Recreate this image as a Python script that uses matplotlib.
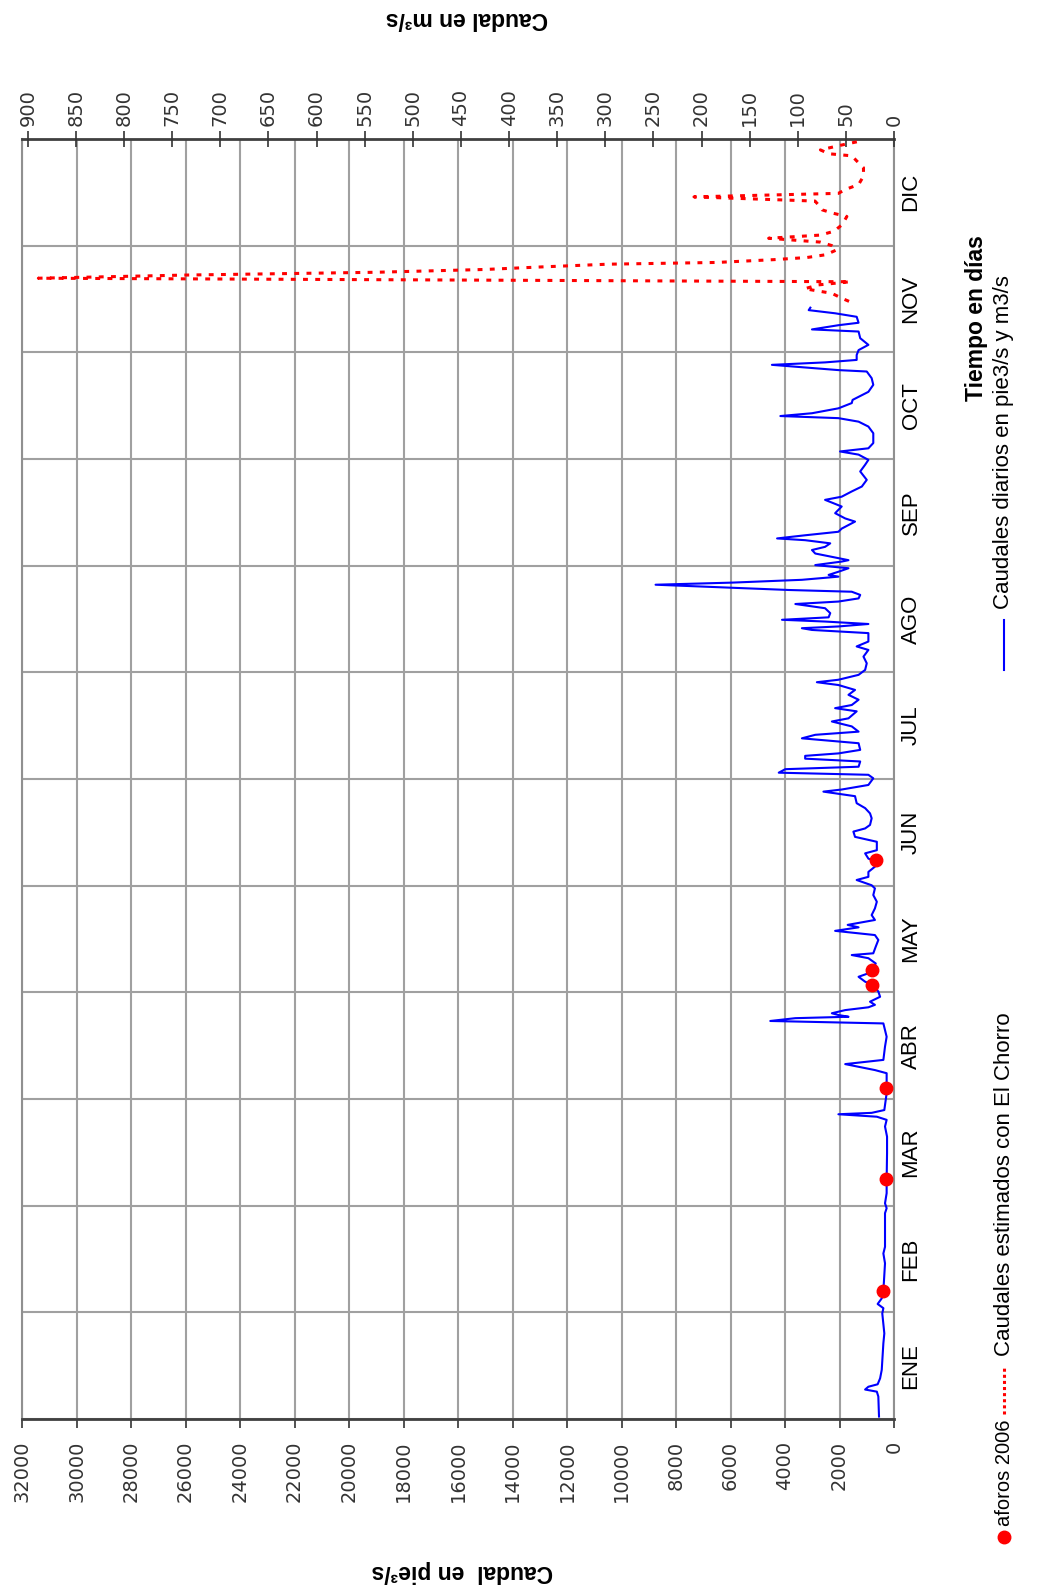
import numpy as np
import matplotlib
matplotlib.use("Agg")
import matplotlib.pyplot as plt
from matplotlib.lines import Line2D
from matplotlib.transforms import blended_transform_factory

plt.rcParams['font.family'] = ['Liberation Sans', 'DejaVu Sans']

# caudales diarios observados (día del año, pie3/s)
blue_day = [0.7, 6.4, 7.8, 8.4, 9.2, 9.9, 11.6, 14.0, 21.6, 24.4, 30.1, 31.6, 32.8, 34.4, 36.5,
            39.6, 44.4, 47.2, 49.1, 58.7, 60.1, 61.5, 64.4, 68.2, 75.8, 80.5, 83.4, 85.3, 86.2,
            86.9, 87.3, 88.1, 92.9, 98.6, 99.5, 101.2, 102.4, 106.2, 109.0, 110.9, 112.8, 113.5,
            114.3, 114.7, 115.2, 115.7, 116.6, 117.4, 118.1, 119.0, 120.4, 121.9, 123.8, 124.7,
            126.1, 127.1, 127.9, 129.9, 131.4, 132.3, 132.8, 134.7, 136.6, 138.0, 139.2, 140.2,
            140.9, 142.3, 143.7, 145.6, 147.5, 149.4, 151.3, 152.2, 153.7, 154.6, 156.0, 157.5,
            158.9, 159.8, 161.3, 162.2, 164.6, 166.0, 167.5, 168.4, 169.4, 171.3, 172.7, 174.2,
            175.6, 177.6, 178.9, 179.5, 180.8, 182.7, 183.7, 184.3, 185.3, 186.0, 187.5, 188.3,
            189.1, 189.8, 190.8, 192.7, 193.2, 194.1, 195.1, 196.0, 197.5, 198.9, 199.8, 201.8,
            202.7, 203.6, 205.1, 206.5, 207.9, 209.3, 210.1, 210.8, 212.2, 213.6, 215.5, 217.4,
            219.3, 220.3, 221.7, 224.1, 225.0, 225.5, 226.0, 226.7, 227.4, 227.9, 228.6, 229.8,
            231.2, 232.4, 233.1, 234.0, 235.0, 235.9, 236.4, 237.9, 238.5, 239.3, 240.2, 240.7,
            241.6, 242.6, 243.5, 244.5, 244.9, 246.8, 247.8, 248.7, 249.7, 250.6, 251.1, 252.0,
            253.0, 253.9, 255.9, 256.8, 258.3, 260.2, 262.1, 263.0, 264.5, 265.9, 267.8, 270.2,
            272.1, 273.5, 275.0, 275.9, 276.8, 278.3, 281.1, 283.0, 284.4, 285.4, 286.0, 286.8,
            288.2, 289.7, 290.6, 292.9, 294.9, 296.8, 298.7, 299.1, 300.6, 301.3, 302.0, 303.4,
            304.8, 306.3, 308.2, 310.1, 310.7, 311.9, 312.6, 314.3, 315.3, 316.2, 316.9]
blue_flow = [550, 575, 630, 1060, 940, 600, 510, 450, 390, 355, 430, 390, 600, 450, 390,
             365, 330, 390, 330, 330, 270, 330, 270, 270, 255, 255, 330, 270, 630,
             2040, 820, 355, 270, 270, 700, 1790, 390, 330, 270, 330, 390, 4540,
             3620, 1670, 2040, 2280, 1790, 940, 700, 880, 510, 575, 790, 1060,
             1300, 940, 820, 670, 940, 1550, 760, 670, 575, 700, 2160, 1300,
             1700, 700, 820, 700, 630, 760, 700, 820, 1370, 940, 940, 700,
             670, 940, 1060, 630, 630, 1430, 1490, 1060, 880, 820, 880, 1060,
             1370, 1430, 2590, 1920, 940, 760, 940, 4230, 3990, 1300, 1240, 3260,
             3260, 2040, 1240, 1300, 2040, 3380, 2890, 1300, 1550, 2280, 1670, 1370,
             2160, 1550, 1300, 1670, 1430, 2040, 2830, 2040, 1300, 1060, 1000, 1120,
             940, 1370, 940, 940, 3010, 3380, 2040, 940, 2530, 4110, 2400, 2340,
             2530, 3620, 2040, 1300, 1240, 1550, 3870, 8750, 5940, 3380, 2040, 2400,
             2040, 1670, 2890, 1920, 1670, 2890, 3010, 2530, 2340, 3260, 4290, 3260,
             2040, 1920, 1430, 1790, 2160, 1920, 2530, 1920, 1550, 1180, 1000, 1240,
             1060, 940, 1300, 1980, 940, 760, 760, 940, 1300, 2040, 4170, 3010,
             2040, 1550, 1520, 940, 760, 820, 1000, 2040, 4480, 2530, 1370, 1370,
             1300, 940, 1240, 1300, 3010, 2040, 1300, 1370, 2160, 3130, 3070]

# caudales estimados con El Chorro
est_day = [318.7, 319.6, 321.0, 322.3, 323.4, 324.3, 325.3, 326.2, 327.0, 327.8, 328.5, 329.3,
           329.8, 330.6, 331.2, 332.0, 333.4, 334.6, 335.6, 336.7, 337.6, 338.7, 340.6, 342.9,
           343.9, 344.8, 346.2, 347.3, 348.5, 349.5, 350.6, 352.0, 354.4, 356.8, 358.2, 360.2,
           360.8, 361.9, 363.4, 364.3, 365.0]
est_flow = [1650, 1920, 2280, 3280, 2770, 1600, 31400, 26000, 19000, 15000, 13000, 10500,
            6500, 4400, 3200, 2500, 2100, 2280, 2700, 4600, 2700, 2200, 1900, 1730,
            2270, 2640, 2770, 2900, 7340, 2040, 1790, 1300, 1120, 1120, 1300, 1550,
            2400, 2700, 1850, 1300, 1150]

# aforos 2006
aforo_day = [36.5, 68.4, 94.3, 123.8, 127.9, 159.4]
aforo_flow = [415, 305, 305, 790, 820, 670]

meses = ['ENE', 'FEB', 'MAR', 'ABR', 'MAY', 'JUN', 'JUL', 'AGO', 'SEP', 'OCT', 'NOV', 'DIC']

PIE3_A_M3 = 0.0283168
W, H = 1049, 1592


def fx(px):
    return px / W


def fy(py):
    return 1 - py / H


fig = plt.figure(figsize=(W / 100, H / 100), dpi=100)
ax = fig.add_axes([fx(22), fy(1419), (894 - 22) / W, (1419 - 139) / H])

limites = np.linspace(0, 365, 13)
ax.set_xlim(32000, 0)
ax.set_ylim(0, 365)
ax.set_xticks(range(0, 32001, 2000))
ax.set_xticklabels([str(v) for v in range(0, 32001, 2000)], rotation=90,
                   family='DejaVu Sans', fontsize=14)
ax.set_yticks(limites)
ax.set_yticklabels([])
ax.tick_params(axis='x', direction='out', length=6.5, width=1.2, colors='#333333', pad=9)
ax.tick_params(axis='y', length=0)
ax.set_axisbelow(True)
ax.grid(True, color='#a0a0a0', lw=1.5)

for lado in ['top', 'bottom']:
    ax.spines[lado].set_color('#404040')
    ax.spines[lado].set_linewidth(2)
for lado in ['left', 'right']:
    ax.spines[lado].set_color('#909090')
    ax.spines[lado].set_linewidth(1.5)

ax.plot(blue_flow, blue_day, color='#0000ff', lw=1.5, zorder=3)
ax.plot(est_flow, est_day, color='red', lw=2.2, dashes=(1.6, 2.4), zorder=3)
ax.plot(aforo_flow, aforo_day, 'o', color='red', ms=9, mec='red', zorder=4)

# eje secundario en m3/s
ax2 = ax.twiny()
ax2.set_xlim(32000 * PIE3_A_M3, 0)
ax2.set_xticks(range(0, 901, 50))
ax2.set_xticklabels([str(v) for v in range(0, 901, 50)], rotation=90,
                    family='DejaVu Sans', fontsize=14)
ax2.tick_params(axis='x', direction='inout', length=12, width=1.2, colors='#333333', pad=3)
for lado in ax2.spines:
    ax2.spines[lado].set_visible(False)

# nombres de los meses
trans = blended_transform_factory(fig.transFigure, ax.transData)
for i, mes in enumerate(meses):
    ax.text(fx(911), (limites[i] + limites[i + 1]) / 2, mes, transform=trans,
            rotation=90, ha='center', va='center', fontsize=16)

fig.text(fx(467), fy(19), 'Caudal en m³/s', rotation=180, ha='center', va='center',
         fontsize=16.5, fontweight='bold')
fig.text(fx(462), fy(1571), 'Caudal  en pie³/s', rotation=180, ha='center', va='center',
         fontsize=16.5, fontweight='bold')
fig.text(fx(976), fy(318), 'Tiempo en días', rotation=90, ha='center', va='center',
         fontsize=16.5, fontweight='bold')

# leyenda
xl = 1004
fig.add_artist(Line2D([fx(xl)], [fy(1537)], marker='o', color='red', ms=9, ls='none',
                      transform=fig.transFigure))
fig.text(fx(xl), fy(1526), 'aforos 2006', rotation=90, ha='center', va='bottom', fontsize=14.5)
fig.add_artist(Line2D([fx(xl), fx(xl)], [fy(1414), fy(1366)], color='red', lw=2.2,
                      dashes=(1.0, 1.0), transform=fig.transFigure))
fig.text(fx(xl), fy(1356), 'Caudales estimados con El Chorro', rotation=90, ha='center',
         va='bottom', fontsize=16)
fig.add_artist(Line2D([fx(xl), fx(xl)], [fy(670), fy(620)], color='#0000ff', lw=1.5,
                      transform=fig.transFigure))
fig.text(fx(xl), fy(609), 'Caudales diarios en pie3/s y m3/s', rotation=90, ha='center',
         va='bottom', fontsize=16)

fig.savefig('out.png', dpi=100)
